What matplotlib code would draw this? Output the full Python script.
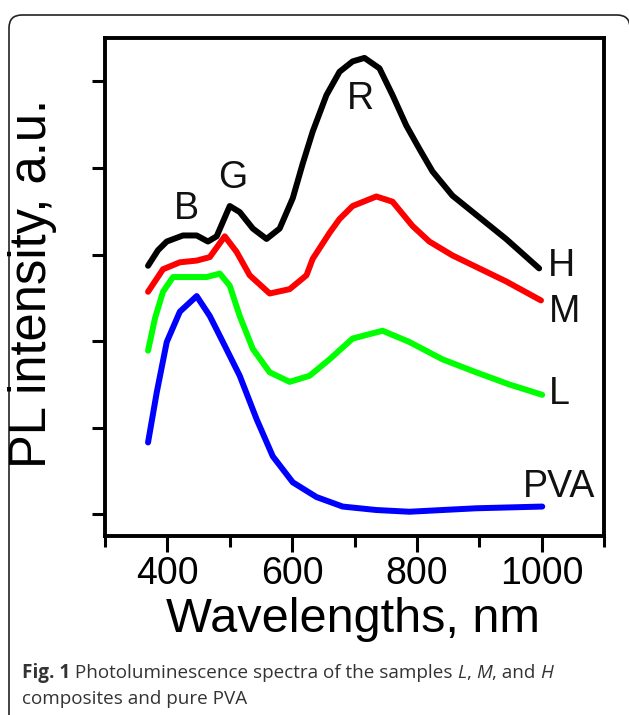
import matplotlib as mpl

mpl.use("Agg")

import matplotlib.pyplot as plt
from matplotlib.patches import FancyBboxPatch
from matplotlib.transforms import IdentityTransform, offset_copy

plt.rcParams["font.family"] = ["Liberation Sans", "DejaVu Sans"]

# wavelength (nm) / PL intensity (a.u.)
H_WL = [369, 385, 399, 425, 447, 465, 479, 500, 516, 537, 559, 580, 601, 617,
        633, 655, 676, 697, 716, 740, 761, 783, 804, 825, 857, 900, 943, 996]
H_PL = [2.87, 3.05, 3.15, 3.22, 3.22, 3.15, 3.21, 3.56, 3.49, 3.30, 3.18, 3.30,
        3.65, 4.05, 4.42, 4.84, 5.11, 5.23, 5.27, 5.15, 4.84, 4.49, 4.22, 3.96,
        3.68, 3.43, 3.18, 2.84]

M_WL = [369, 393, 420, 447, 468, 492, 511, 532, 564, 596, 623, 633, 660, 676,
        697, 735, 761, 793, 820, 857, 900, 943, 999]
M_PL = [2.57, 2.83, 2.91, 2.93, 2.97, 3.21, 3.03, 2.76, 2.55, 2.60, 2.76, 2.95,
        3.25, 3.41, 3.56, 3.67, 3.61, 3.33, 3.15, 2.99, 2.84, 2.69, 2.47]

L_WL = [369, 380, 393, 409, 436, 463, 484, 500, 516, 537, 564, 596, 628, 660,
        697, 745, 788, 841, 895, 948, 1001]
L_PL = [1.89, 2.26, 2.57, 2.74, 2.74, 2.74, 2.78, 2.64, 2.29, 1.91, 1.64, 1.53,
        1.60, 1.79, 2.03, 2.12, 1.99, 1.79, 1.64, 1.50, 1.38]

PVA_WL = [369, 383, 399, 420, 447, 468, 489, 516, 543, 569, 601, 639, 681, 735,
          788, 841, 895, 948, 1001]
PVA_PL = [0.83, 1.41, 1.99, 2.34, 2.52, 2.29, 1.99, 1.60, 1.10, 0.67, 0.37, 0.20,
          0.09, 0.05, 0.03, 0.05, 0.07, 0.08, 0.09]

SERIES = [
    (H_WL, H_PL, "#000000"),
    (M_WL, M_PL, "#ff0000"),
    (L_WL, L_PL, "#00ff00"),
    (PVA_WL, PVA_PL, "#0000ff"),
]

# curve / band annotations: text, wavelength, intensity
LABELS = [
    ("B", 430, 3.53), ("G", 505, 3.88), ("R", 710, 4.79),
    ("H", 1031, 2.87), ("M", 1036, 2.34), ("L", 1028, 1.39), ("PVA", 1028, 0.31),
]

X_MAJOR = [400, 600, 800, 1000]
X_MINOR = [300, 500, 700, 900, 1100]
Y_TICKS = [0, 1, 2, 3, 4, 5]

W, H = 629, 715
fig = plt.figure(figsize=(W / 100, H / 100), dpi=100)

# rounded frame around figure + caption (pixel coordinates)
frame = FancyBboxPatch(
    (9, -40), 630 - 9, (H - 15) + 40,
    boxstyle="round,pad=0,rounding_size=13",
    transform=IdentityTransform(), facecolor="none", edgecolor="#222222",
    linewidth=1.2, clip_on=False,
)
fig.patches.append(frame)

ax = fig.add_axes([105 / W, 1 - 536 / H, (604 - 105) / W, (536 - 38) / H])
for wl, pl, color in SERIES:
    ax.plot(wl, pl, color=color, linewidth=4.3, solid_joinstyle="round",
            solid_capstyle="round")

for text, x, y in LABELS:
    ax.text(x, y, text, fontsize=27, ha="center", va="center", color="#111111")

ax.set_xlim(300, 1100)
ax.set_ylim(-0.25, 5.5)
ax.set_xticks(X_MAJOR)
ax.set_xticks(X_MINOR, minor=True)
ax.set_yticks(Y_TICKS)
ax.set_yticklabels([])
ax.tick_params(axis="x", which="major", direction="out", length=11.5, width=2.2,
               labelsize=27, pad=3)
ax.tick_params(axis="x", which="minor", direction="out", length=8, width=2.2)
ax.tick_params(axis="y", which="major", direction="out", length=9.5, width=2.2)
for spine in ax.spines.values():
    spine.set_linewidth(2.8)

fig.text(353 / W, 1 - 619 / H, "Wavelengths, nm", fontsize=35, ha="center",
         va="center")
fig.text(33 / W, 1 - 283 / H, "PL intensity, a.u.", fontsize=36.5, ha="center",
         va="center", rotation=90)


def caption_line(runs, x_px, y_px):
    renderer = fig.canvas.get_renderer()
    trans = fig.transFigure
    dx = 0.0
    for text, weight, style in runs:
        t = fig.text(x_px / W, 1 - y_px / H, text, fontsize=13.6,
                     family="Open Sans", weight=weight, style=style,
                     color="#333333", ha="left", va="baseline",
                     transform=offset_copy(trans, fig=fig, x=dx, y=0,
                                           units="dots"))
        dx += t.get_window_extent(renderer).width


caption_line(
    [("Fig. 1", "bold", "normal"),
     (" Photoluminescence spectra of the samples ", "normal", "normal"),
     ("L", "normal", "italic"), (", ", "normal", "normal"),
     ("M", "normal", "italic"), (", and ", "normal", "normal"),
     ("H", "normal", "italic")],
    22, 678,
)
caption_line([("composites and pure PVA", "normal", "normal")], 22, 704)

fig.savefig("out.png", dpi=100)
